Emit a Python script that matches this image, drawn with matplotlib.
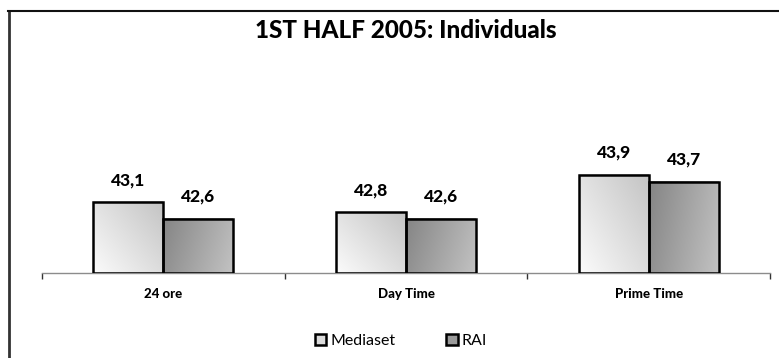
import numpy as np
import matplotlib
matplotlib.use("Agg")
import matplotlib.pyplot as plt
from matplotlib.patches import Rectangle
from matplotlib.lines import Line2D
from matplotlib.colors import LinearSegmentedColormap

categories = ["24 ore", "Day Time", "Prime Time"]
mediaset = [43.1, 42.8, 43.9]
rai = [42.6, 42.6, 43.7]
series_names = ["Mediaset", "RAI"]
value_labels_mediaset = ["43,1", "42,8", "43,9"]
value_labels_rai = ["42,6", "42,6", "43,7"]
title = "1ST HALF 2005: Individuals"

plt.rcParams['font.family'] = ['Lato', 'DejaVu Sans']

W, H = 779, 358
fig = plt.figure(figsize=(W / 100, H / 100), dpi=100)
fig.patch.set_facecolor("white")

left_px, right_px, bottom_px, ymin, ymax = 42, 770, 273, 41.0, 45.0
ppu = 33.85
top_px = bottom_px - (ymax - ymin) * ppu
ax = fig.add_axes([left_px / W, (H - bottom_px) / H,
                   (right_px - left_px) / W, (bottom_px - top_px) / H])

cmap_m = LinearSegmentedColormap.from_list("m", ["#fbfbfb", "#c4c4c4"])
cmap_r = LinearSegmentedColormap.from_list("r", ["#858585", "#c2c2c2"])

n = 64
gx, gy = np.meshgrid(np.linspace(0, 1, n), np.linspace(0, 1, n))
grad_m = 0.55 * gx + 0.45 * gy
grad_r = 0.8 * gx + 0.2 * (1 - gy)

x = np.arange(len(categories))
bw = 0.288

for vals, labels, off, cmap, grad in [
        (mediaset, value_labels_mediaset, -bw / 2, cmap_m, grad_m),
        (rai, value_labels_rai, bw / 2, cmap_r, grad_r)]:
    bars = ax.bar(x + off, np.array(vals) - ymin, bw, bottom=ymin,
                  facecolor="none", edgecolor="black", linewidth=1.8, zorder=3)
    for b, lab in zip(bars, labels):
        x0, y0 = b.get_x(), b.get_y()
        ax.imshow(grad, cmap=cmap, extent=[x0, x0 + b.get_width(), y0, y0 + b.get_height()],
                  origin="lower", aspect="auto", zorder=2, interpolation="bilinear")
        ax.annotate(lab, (x0 + b.get_width() / 2, y0 + b.get_height()),
                    xytext=(0, 10), textcoords="offset points",
                    ha="center", va="bottom", fontsize=12.5, fontweight="black")

ax.set_xlim(-0.5, 2.5)
ax.set_ylim(ymin, ymax)
ax.set_facecolor("none")
for s in ["left", "right", "top"]:
    ax.spines[s].set_visible(False)
ax.spines["bottom"].set_color("#8c8c8c")
ax.spines["bottom"].set_linewidth(1.0)
ax.set_yticks([])
ax.set_xticks(x)
ax.set_xticklabels(categories, fontsize=9.5, fontweight="black")
ax.tick_params(axis="x", which="major", length=0, pad=11)
ax.set_xticks([-0.5, 0.5, 1.5, 2.5], minor=True)
ax.tick_params(axis="x", which="minor", length=4, width=1.0, color="#333333", direction="out")

fig.text(406 / W, 1 - 31 / H, title, ha="center", va="center",
         fontsize=17.5, fontweight="black")

# outer frame (left and top lines)
fig.add_artist(Line2D([8.5 / W, 8.5 / W], [0, 1 - 10.5 / H], color="#333333", linewidth=2.0))
fig.add_artist(Line2D([7.5 / W, 1], [1 - 10.5 / H, 1 - 10.5 / H], color="#111111", linewidth=1.5))

handles = [Rectangle((0, 0), 1, 1, facecolor="#dcdcdc", edgecolor="black", linewidth=1.8),
           Rectangle((0, 0), 1, 1, facecolor="#9a9a9a", edgecolor="black", linewidth=1.8)]
fig.legend(handles, series_names, loc="center", bbox_to_anchor=(401 / W, 1 - 341 / H),
           ncol=2, frameon=False, fontsize=11.5, handlelength=0.7, handleheight=0.7,
           handletextpad=0.25, columnspacing=3.2, borderaxespad=0)

fig.savefig("out.png", dpi=100)
